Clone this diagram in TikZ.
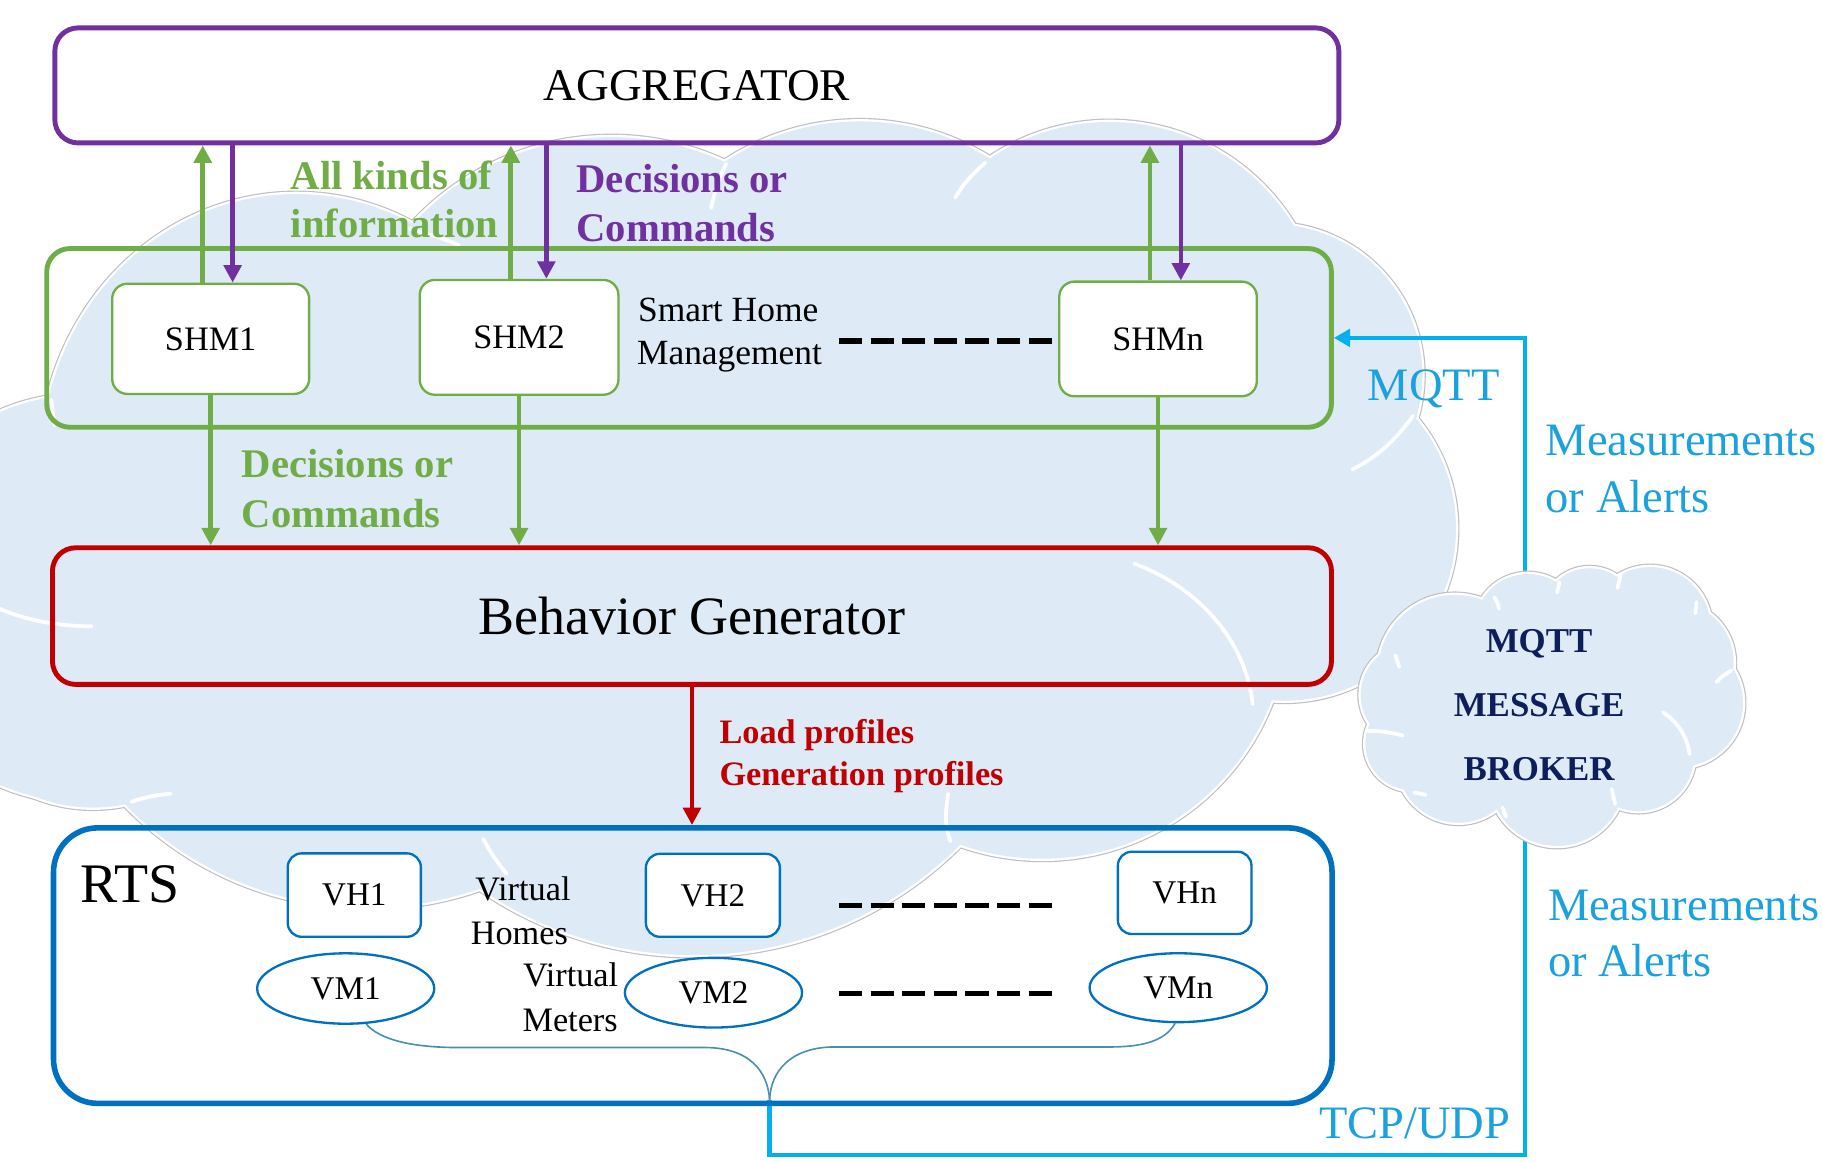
\documentclass[tikz,border=0pt]{standalone}
\usepackage{fontspec}
\setmainfont{Liberation Serif}
\usetikzlibrary{arrows.meta,shapes.geometric}

\definecolor{aggpurple}{HTML}{7030A0}
\definecolor{shmgreen}{HTML}{70AD47}
\definecolor{bgred}{HTML}{C00000}
\definecolor{rtsblue}{HTML}{0070C0}
\definecolor{linkcyan}{HTML}{00B0F0}
\definecolor{linktext}{HTML}{1BA1DE}
\definecolor{cloudfill}{HTML}{DEEBF7}
\definecolor{cloudedge}{HTML}{BFBFBF}
\definecolor{brokernavy}{HTML}{0E1E5B}
\definecolor{bracecol}{HTML}{4A90AE}

\newcommand\fsz[1]{\fontsize{#1}{#1}\selectfont}

\begin{document}
\begin{tikzpicture}[x=1pt,y=-1pt,
  frame/.style={draw, line width=4.2pt, inner sep=0pt, rounded corners=20pt},
  smallbox/.style={draw, fill=white, line width=2pt, inner sep=0pt, rounded corners=13pt, font=\fsz{29.5}},
  meter/.style={draw=rtsblue, fill=white, ellipse, line width=2pt, inner sep=0pt, font=\fsz{28.5}},
  txt/.style={inner sep=0pt, anchor=base west},
  tip/.style={-{Triangle[width=15pt,length=15pt]}},
  upflow/.style={draw=shmgreen, line width=4pt, tip},
  downcmd/.style={draw=aggpurple, line width=4pt, tip},
  profileflow/.style={draw=bgred, line width=4pt, tip},
  mqttlink/.style={draw=linkcyan, line width=3.8pt, -{Triangle[width=15pt,length=14pt]}},
  dashline/.style={line width=5pt, dash pattern=on 20pt off 7.2pt},
  brace/.style={draw=bracecol, line width=1.4pt},
  cloudwhite/.style={draw=white, line width=3.2pt, line cap=round},
]
\useasboundingbox (0,0) rectangle (1568,1000);

% ---------- background cloud: union of bumps ----------
\begin{scope}
  \clip (0,0) rectangle (1568,1000);
  \def\bumps{255/400/220/233, 526/351/233/233, 740/316/211.5/211.5,
    955/290/185/185, 1094/323/130/130, 1105/455/148/148, 897/528/211/211,
    597/498/324/324, 317/490/291/291, 80/560/135/135, 70/515/175/175}
  \foreach \cx/\cy/\rx/\ry in \bumps
    \draw[cloudedge, line width=6pt] (\cx,\cy) circle[x radius=\rx, y radius=\ry];
  \foreach \cx/\cy/\rx/\ry in \bumps
    \draw[white, line width=4pt] (\cx,\cy) circle[x radius=\rx, y radius=\ry];
  \foreach \cx/\cy/\rx/\ry in \bumps
    \fill[cloudfill] (\cx,\cy) circle[x radius=\rx, y radius=\ry];
  % inner arcs of the cloud
  \draw[cloudwhite] (0,524) .. controls (25,535) and (55,539) .. (79,539);
  \draw[cloudwhite] (113,690) .. controls (125,686) and (135,684) .. (147,683);
  \draw[cloudwhite] (44,344) .. controls (45,352) and (46,358) .. (47,366);
  \draw[cloudwhite] (352,197) .. controls (368,201) and (384,206) .. (395,211);
  \draw[cloudwhite] (625,141) .. controls (619,152) and (615,165) .. (612,179);
  \draw[cloudwhite] (848,140) .. controls (836,150) and (828,160) .. (822,170);
  \draw[cloudwhite] (1216,358) .. controls (1200,380) and (1185,393) .. (1164,404);
  \draw[cloudwhite] (976,485) .. controls (1030,505) and (1072,550) .. (1078,606);
  \draw[cloudwhite] (416,722) .. controls (422,734) and (428,742) .. (436,752);
  \draw[cloudwhite] (816,683) .. controls (814,697) and (812,708) .. (818,724);
\end{scope}

% ---------- upper blocks ----------
\node[frame, draw=aggpurple, minimum width=1105pt, minimum height=99pt, font=\fsz{39}]
  (agg) at (599.7,73.5) {AGGREGATOR};
\node[frame, draw=shmgreen, minimum width=1105.6pt, minimum height=153.8pt]
  (shm) at (593,290.8) {};
\node[frame, draw=bgred, minimum width=1100.7pt, minimum height=117.6pt, font=\fsz{46.5}]
  (bg) at (595.5,530.2) {Behavior Generator};

\node[smallbox, draw=shmgreen, minimum width=169.5pt, minimum height=94.8pt] (shm1) at (181.3,291.6) {SHM1};
\node[smallbox, draw=shmgreen, minimum width=171pt, minimum height=98.8pt] (shm2) at (446.7,290.3) {SHM2};
\node[smallbox, draw=shmgreen, minimum width=170pt, minimum height=98.7pt] (shmn) at (996.6,291.7) {SHMn};

% ---------- MQTT / TCP-UDP link ----------
\coordinate (bt) at (662.3,947);
\coordinate (cb) at (1312.6,994);
\draw[mqttlink] (bt) |- (cb) |- (shm.east);

% ---------- MQTT broker cloud ----------
\def\puffs{1215/598/44/44, 1252/578/66/66, 1315/540/46/46, 1368/530/41/41,
  1420/540/52/52, 1440/570/52/52, 1445/605/55/55, 1410/650/48/48,
  1340/670/58/58, 1255/655/53/53, 1215/640/40/40, 1335/600/115/85}
\foreach \cx/\cy/\rx/\ry in \puffs
  \draw[cloudedge, line width=6pt] (\cx,\cy) circle[x radius=\rx, y radius=\ry];
\foreach \cx/\cy/\rx/\ry in \puffs
  \draw[white, line width=4pt] (\cx,\cy) circle[x radius=\rx, y radius=\ry];
\foreach \cx/\cy/\rx/\ry in \puffs
  \fill[cloudfill] (\cx,\cy) circle[x radius=\rx, y radius=\ry];
\draw[cloudwhite] (1177,629) .. controls (1190,629) and (1200,631) .. (1207,633);
\draw[cloudwhite] (1431,613) .. controls (1445,622) and (1452,635) .. (1454,649);
\draw[cloudwhite] (1477,587) .. controls (1482,582) .. (1490,577);
\draw[cloudwhite] (1387,679) .. controls (1389,685) .. (1390,692);
\draw[cloudwhite] (1286,514) .. controls (1289,519) .. (1290,524);
\draw[cloudwhite] (1342,501) -- (1340,510);
\draw[cloudwhite] (1395,494) -- (1392,506);
\draw[cloudwhite] (1460,518) -- (1459,528);
\draw[cloudwhite] (1293,695) -- (1296,703);
\draw[cloudwhite] (1217,682) -- (1227,684);
\draw[cloudwhite] (1201,564) -- (1204,574);

\node[inner sep=0pt, anchor=base, font=\fsz{30}\bfseries, text=brokernavy] (bk1) at (1324.5,561.8) {MQTT};
\node[inner sep=0pt, anchor=base, font=\fsz{30}\bfseries, text=brokernavy] (bk2) at (1324.5,616.8) {MESSAGE};
\node[inner sep=0pt, anchor=base, font=\fsz{30}\bfseries, text=brokernavy] (bk3) at (1324.5,672.1) {BROKER};

% ---------- RTS block ----------
\node[frame, draw=rtsblue, line width=4.8pt, rounded corners=38pt, minimum width=1100.3pt, minimum height=237.1pt]
  (rts) at (596.2,831) {};
\node[smallbox, draw=rtsblue, rounded corners=12pt, font=\fsz{28.5}, minimum width=114.6pt, minimum height=71.8pt] (vh1) at (304.9,770.3) {VH1};
\node[smallbox, draw=rtsblue, rounded corners=12pt, font=\fsz{28.5}, minimum width=115.3pt, minimum height=71.4pt] (vh2) at (613.5,770.5) {VH2};
\node[smallbox, draw=rtsblue, rounded corners=12pt, font=\fsz{28.5}, minimum width=115pt, minimum height=70.8pt] (vhn) at (1019.5,768.4) {VHn};
\node[meter, minimum width=152.4pt, minimum height=60.6pt] (vm1) at (297.5,850.7) {VM1};
\node[meter, minimum width=152.5pt, minimum height=60pt] (vm2) at (614,854.3) {VM2};
\node[meter, minimum width=152.6pt, minimum height=59.3pt] (vmn) at (1014,850) {VMn};

% brace gathering the meters
\draw[brace] (vm1.-60) .. controls (326,894) and (352,901.5) .. (395,901.5) -- (608,901.5)
  .. controls (645,902) and (661,922) .. (bt);
\draw[brace] (vmn.-95) .. controls (1004,893) and (990,901) .. (955,901) -- (716,901)
  .. controls (680,902) and (663,922) .. (bt);

% ellipsis dashes
\coordinate (dshm) at (722,293.6);
\draw[dashline] (dshm) -- (shmn.west |- dshm);
\coordinate (dvh1) at (722,779.2);
\coordinate (dvh2) at (906.6,779.2);
\draw[dashline] (dvh1) -- (dvh2);
\coordinate (dvm1) at (722,855);
\coordinate (dvm2) at (906.6,855);
\draw[dashline] (dvm1) -- (dvm2);

% ---------- arrows ----------
\coordinate (g1) at (174.5,0);
\coordinate (p1) at (200.2,0);
\coordinate (g2) at (439.6,0);
\coordinate (p2) at (470.2,0);
\coordinate (g3) at (989.6,0);
\coordinate (p3) at (1016.2,0);
\draw[upflow] (shm1.north -| g1) -- (agg.south -| g1);
\draw[downcmd] (agg.south -| p1) -- (shm1.north -| p1);
\draw[upflow] (shm2.north -| g2) -- (agg.south -| g2);
\draw[downcmd] (agg.south -| p2) -- (shm2.north -| p2);
\draw[upflow] (shmn.north -| g3) -- (agg.south -| g3);
\draw[downcmd] (agg.south -| p3) -- (shmn.north -| p3);

\draw[upflow] (shm1.south) -- (shm1.south |- bg.north);
\draw[upflow] (shm2.south) -- (shm2.south |- bg.north);
\draw[upflow] (shmn.south) -- (shmn.south |- bg.north);
\draw[profileflow] (bg.south) -- (bg.south |- rts.north);

% ---------- labels ----------
\node[txt, font=\fsz{35}\bfseries, text=shmgreen] (info1) at (250,163) {All kinds of};
\node[txt, font=\fsz{35}\bfseries, text=shmgreen] (info2) at (250,204) {information};
\node[txt, font=\fsz{35}\bfseries, text=aggpurple] (cmdp1) at (496,166) {Decisions or};
\node[txt, font=\fsz{35}\bfseries, text=aggpurple] (cmdp2) at (496,208) {Commands};
\node[txt, font=\fsz{35}\bfseries, text=shmgreen] (cmdg1) at (208,411) {Decisions or};
\node[txt, font=\fsz{35}\bfseries, text=shmgreen] (cmdg2) at (208,454) {Commands};
\node[txt, font=\fsz{29.5}\bfseries, text=bgred] (prof1) at (619,640) {Load profiles};
\node[txt, font=\fsz{29.5}\bfseries, text=bgred] (prof2) at (619,676) {Generation profiles};

\node[txt, font=\fsz{30.5}] (smh1) at (549,277) {Smart Home};
\node[txt, font=\fsz{30.5}] (smh2) at (548,314) {Management};

\node[txt, font=\fsz{48}] (rtslabel) at (69,777) {RTS};
\node[txt, font=\fsz{29.5}] (vhome1) at (409,775) {Virtual};
\node[txt, font=\fsz{29.5}] (vhome2) at (405,813) {Homes};
\node[txt, font=\fsz{29.5}] (vmeter1) at (450,849) {Virtual};
\node[txt, font=\fsz{29.5}] (vmeter2) at (449.5,887.6) {Meters};

\node[txt, font=\fsz{40}, text=linktext] (mqttlabel) at (1177,344.3) {MQTT};
\node[txt, font=\fsz{40}, text=linktext] (meas1) at (1330,392.4) {Measurements};
\node[txt, font=\fsz{40}, text=linktext] (alert1) at (1330,440.8) {or Alerts};
\node[txt, font=\fsz{40}, text=linktext] (meas2) at (1332,792.3) {Measurements};
\node[txt, font=\fsz{40}, text=linktext] (alert2) at (1332,840) {or Alerts};
\node[txt, font=\fsz{40}, text=linktext] (tcpudp) at (1135,980) {TCP/UDP};
\end{tikzpicture}
\end{document}
